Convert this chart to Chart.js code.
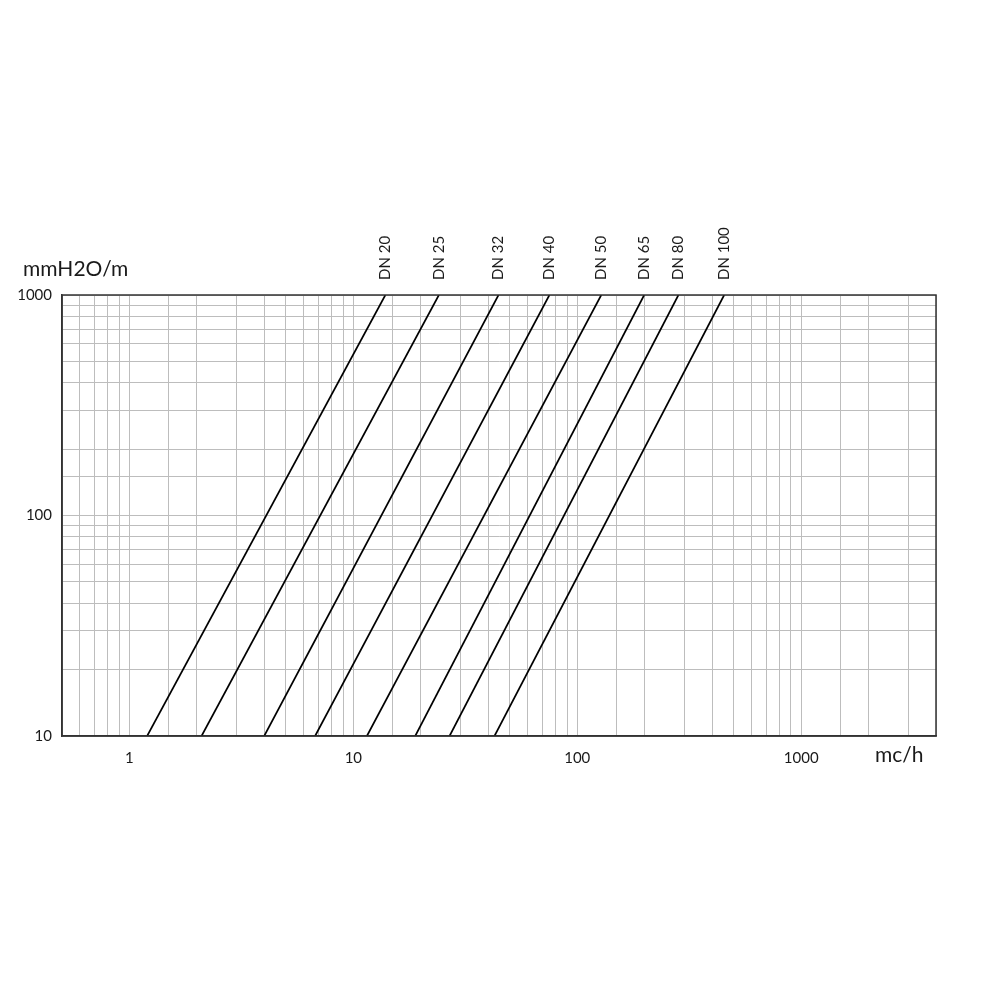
<!DOCTYPE html>
<html>
<head>
<meta charset="utf-8">
<script src="https://cdn.jsdelivr.net/npm/chart.js@4/dist/chart.umd.min.js"></script>
<style>
 html,body { margin:0; padding:0; background:#fff; }
 #wrap { width:1000px; height:1000px; }
</style>
</head>
<body>
<div id="wrap"><canvas id="chart" width="1000" height="1000"></canvas></div>
<script>
// valve sizes and flow (mc/h) read where each line crosses 10 and 1000 mmH2O/m
const sizes = ['DN 20','DN 25','DN 32','DN 40','DN 50','DN 65','DN 80','DN 100'];
const flowAt10 = [1.2, 2.1, 4.0, 6.75, 11.5, 18.9, 26.9, 42.7];
const flowAt1000 = [13.9, 24.1, 44.5, 75.1, 128, 199, 283, 453];
const lossRange = [10, 1000];
const xRange = [0.5, 4000];
const xLabels = [1, 10, 100, 1000];
const yLabels = [10, 100, 1000];

const FONT = 'Lato, "Open Sans", sans-serif';

function $(selector)
{
    return document.querySelector(selector);
}

function isDecade(v, list)
{
    for (let i=0;i<list.length;i++) if (Math.abs(v-list[i])<1e-9) return true;
    return false;
}

let datasets=[];
for (let i=0;i<sizes.length;i++)
{
    datasets.push({
        label: sizes[i],
        data: [ {x: flowAt10[i], y: lossRange[0]}, {x: flowAt1000[i], y: lossRange[1]} ],
        borderColor: '#000',
        borderWidth: 1.7,
        pointRadius: 0,
        showLine: true,
        fill: false
    });
}

// frame + texts that are not axis ticks
const extras = {
    id: 'extras',
    afterDraw(chart) {
        const ctx = chart.ctx;
        const a = chart.chartArea;
        const sx = chart.scales.x;
        ctx.save();
        ctx.strokeStyle = '#333';
        ctx.lineWidth = 1.5;
        ctx.strokeRect(a.left, a.top, a.right-a.left, a.bottom-a.top);

        ctx.fillStyle = '#1a1a1a';
        ctx.font = '15px '+FONT;
        ctx.textAlign = 'left';
        ctx.textBaseline = 'middle';
        for (let i=0;i<sizes.length;i++)
        {
            let px = sx.getPixelForValue(flowAt1000[i]);
            ctx.save();
            ctx.translate(px, a.top-15);
            ctx.rotate(-Math.PI/2);
            ctx.fillText(sizes[i], 0, 0);
            ctx.restore();
        }

        ctx.font = '21px '+FONT;
        ctx.textAlign = 'left';
        ctx.fillText('mmH2O/m', 23, 269);
        ctx.fillText('mc/h', 875, 755);
        ctx.restore();
    }
};

const config = {
    type: 'scatter',
    data: { datasets: datasets },
    options: {
        responsive: false,
        animation: false,
        layout: { padding: { top: 295, right: 64, left: 0, bottom: 0 } },
        plugins: {
            legend: { display: false },
            tooltip: { enabled: false }
        },
        scales: {
            x: {
                type: 'logarithmic',
                min: xRange[0],
                max: xRange[1],
                afterFit: function(scale) { scale.height = 264; },
                grid: { color: '#bdbdbd', lineWidth: 1, drawTicks: false },
                border: { color: '#333', width: 1.5 },
                ticks: {
                    autoSkip: false,
                    maxRotation: 0,
                    padding: 13,
                    color: '#1a1a1a',
                    font: { family: FONT, size: 15 },
                    callback: function(v) { return isDecade(v, xLabels) ? String(v) : ''; }
                }
            },
            y: {
                type: 'logarithmic',
                min: lossRange[0],
                max: lossRange[1],
                afterFit: function(scale) { scale.width = 62; },
                grid: { color: '#bdbdbd', lineWidth: 1, drawTicks: false },
                border: { color: '#333', width: 1.5 },
                ticks: {
                    autoSkip: false,
                    padding: 10,
                    color: '#1a1a1a',
                    font: { family: FONT, size: 15 },
                    callback: function(v) { return isDecade(v, yLabels) ? String(v) : ''; }
                }
            }
        }
    },
    plugins: [extras]
};

let myChart = new Chart($('#chart'), config);
</script>
</body>
</html>
